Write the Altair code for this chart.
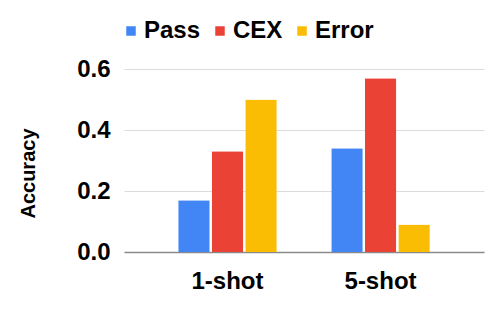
import altair as alt
import pandas as pd

categories = ["1-shot", "5-shot"]
series = ["Pass", "CEX", "Error"]
pass_vals = [0.17, 0.34]
cex_vals = [0.33, 0.57]
error_vals = [0.50, 0.09]
colors = ["#4285F4", "#EA4335", "#FBBC04"]

rows = []
for i, c in enumerate(categories):
    for s, vals in zip(series, [pass_vals, cex_vals, error_vals]):
        rows.append({"shot": c, "series": s, "value": vals[i]})
df = pd.DataFrame(rows)

FONT = "Liberation Sans"

chart = alt.Chart(df).mark_bar(cornerRadius=1).encode(
    x=alt.X("shot:N", sort=categories,
            scale=alt.Scale(paddingInner=0.356, paddingOuter=0.354),
            axis=alt.Axis(title=None, labelAngle=0, labelFont=FONT, labelFontSize=24,
                          labelFontWeight="bold", labelColor="#000", labelPadding=17,
                          ticks=False, domainColor="#8a8a8a", domainWidth=1.5)),
    xOffset=alt.XOffset("series:N", sort=series, scale=alt.Scale(paddingInner=0.06, paddingOuter=0)),
    y=alt.Y("value:Q", scale=alt.Scale(domain=[0, 0.6], nice=False),
            axis=alt.Axis(title="Accuracy", values=[0, 0.2, 0.4, 0.6], format=".1f",
                          labelFont=FONT, labelFontSize=24, labelFontWeight="bold",
                          labelColor="#000", labelPadding=14, ticks=False, domain=False,
                          gridColor="#dcdcdc", gridWidth=1,
                          titleFont=FONT, titleFontSize=20, titleFontWeight="bold",
                          titleColor="#000", titleX=-96, titleY=104,
                          titleAlign="center", titleBaseline="middle")),
    color=alt.Color("series:N", sort=series,
                    scale=alt.Scale(domain=series, range=colors),
                    legend=alt.Legend(title=None, orient="none", direction="horizontal",
                                      legendX=-5, legendY=-50,
                                      labelFont=FONT, labelFontSize=24, labelFontWeight="bold",
                                      labelColor="#000", symbolType="square", symbolSize=90,
                                      symbolStrokeWidth=0, labelOffset=1, columnPadding=7)),
).properties(
    width=360, height=183,
    autosize=alt.AutoSizeParams(type="none"),
    padding={"left": 116, "top": 61, "right": 8, "bottom": 40},
).configure_view(stroke=None)

chart.save("out.html", embed_options={"renderer": "svg", "actions": False})
